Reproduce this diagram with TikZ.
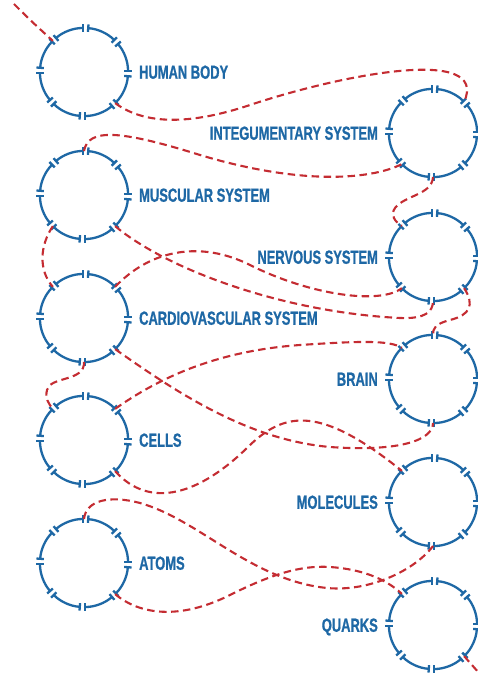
\documentclass[tikz,border=0pt]{standalone}
\usepackage{fontspec}
\newfontfamily\labelfont{Liberation Sans Bold}[FakeStretch=0.68, FakeBold=0.8]
\usetikzlibrary{arrows.meta,positioning}
\definecolor{ringblue}{RGB}{30,104,165}
\definecolor{threadred}{RGB}{196,44,50}

\begin{document}
\begin{tikzpicture}[x=1pt, y=-1pt,
    ring/.style={circle, minimum size=88pt, inner sep=0pt, outer sep=0pt},
    ringarc/.style={draw=ringblue, line width=2.3pt, {Bar[width=7.5pt]}-{Bar[width=7.5pt]}},
    lbl/.style={text=ringblue, font=\labelfont\fontsize{19}{19}\selectfont, inner sep=0pt, text height=13.5pt, text depth=0pt},
    thread/.style={draw=threadred, line width=2.1pt, dash pattern=on 7.5pt off 4.5pt}]
	\useasboundingbox (0,0) rectangle (478,679);
	% left column
	\node[ring] (hb) at (84,72) {};
	\node[ring] (mus) at (84,195) {};
	\node[ring] (car) at (84,318) {};
	\node[ring] (cel) at (84,440) {};
	\node[ring] (ato) at (84,563) {};
	% right column
	\node[ring] (int) at (433,133) {};
	\node[ring] (ner) at (433,257) {};
	\node[ring] (bra) at (433,379) {};
	\node[ring] (mol) at (433,502) {};
	\node[ring] (qua) at (433,625) {};
	\foreach \n in {hb,mus,car,cel,ato,int,ner,bra,mol,qua}
		\foreach \a [evaluate=\a as \b using \a+4, evaluate=\a as \e using \a+41] in {0,45,...,315}
			\draw[ringarc] ([shift={(\b:44pt)}]\n.center) arc[start angle=\b, end angle=\e, radius=44pt];
	\node[lbl, right=11pt of hb] (hbl) {HUMAN BODY};
	\node[lbl, right=11pt of mus] (musl) {MUSCULAR SYSTEM};
	\node[lbl, right=11pt of car] (carl) {CARDIOVASCULAR SYSTEM};
	\node[lbl, right=11pt of cel] (cell) {CELLS};
	\node[lbl, right=11pt of ato] (atol) {ATOMS};
	\node[lbl, left=11pt of int] (intl) {INTEGUMENTARY SYSTEM};
	\node[lbl, left=11pt of ner] (nerl) {NERVOUS SYSTEM};
	\node[lbl, left=11pt of bra] (bral) {BRAIN};
	\node[lbl, left=11pt of mol] (moll) {MOLECULES};
	\node[lbl, left=11pt of qua] (qual) {QUARKS};
	% the thread
	\coordinate (start) at (14,4);
	\coordinate (finish) at (479,673);
	\draw[thread] (start) .. controls (30,20) .. (hb.135);
	\draw[thread] (hb.315) .. controls (145,125) and (190,125) .. (250,105) .. controls (340,75) and (490,45) .. (int.45);
	\draw[thread] (mus.90) .. controls (88,128) and (120,130) .. (200,155) .. controls (300,185) and (370,180) .. (int.225);
	\draw[thread] (int.270) .. controls (432,195) and (405,195) .. (395,208) .. controls (390,215) and (395,222) .. (ner.135);
	\draw[thread] (mus.225) .. controls (40,245) and (38,270) .. (car.135);
	\draw[thread] (mus.315) .. controls (165,268) and (280,312) .. (400,318) .. controls (425,319) and (433,312) .. (ner.270);
	\draw[thread] (car.45) .. controls (150,250) and (200,240) .. (250,265) .. controls (310,295) and (380,305) .. (ner.225);
	\draw[thread] (ner.315) .. controls (475,305) and (470,315) .. (450,320) .. controls (435,324) and (433,328) .. (bra.90);
	\draw[thread] (car.270) .. controls (85,382) and (50,376) .. (47,390) .. controls (45,398) and (48,403) .. (cel.135);
	\draw[thread] (car.315) .. controls (180,395) and (250,440) .. (330,447) .. controls (400,452) and (433,440) .. (bra.270);
	\draw[thread] (cel.45) .. controls (170,370) and (230,350) .. (300,345) .. controls (360,341) and (390,340) .. (bra.135);
	\draw[thread] (cel.315) .. controls (150,510) and (200,495) .. (250,445) .. controls (285,412) and (320,405) .. (mol.135);
	\draw[thread] (ato.90) .. controls (86,500) and (110,495) .. (140,503) .. controls (200,520) and (250,580) .. (327,588) .. controls (370,592) and (415,570) .. (mol.270);
	\draw[thread] (ato.315) .. controls (140,615) and (180,620) .. (230,595) .. controls (270,575) and (300,565) .. (330,567) .. controls (360,569) and (385,578) .. (qua.135);
	\draw[thread] (qua.315) -- (finish);
\end{tikzpicture}
\end{document}
